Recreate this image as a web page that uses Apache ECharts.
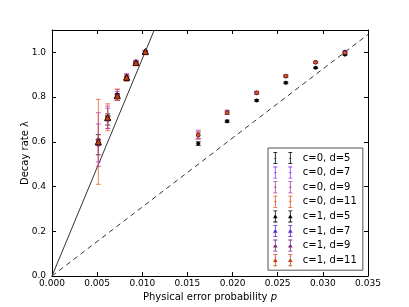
<!DOCTYPE html>
<html>
<head>
<meta charset="utf-8">
<script src="https://cdn.jsdelivr.net/npm/echarts@6/dist/echarts.min.js"></script>
<style>
html,body{margin:0;padding:0;background:#fff;}
#chart{width:409px;height:307px;}
</style>
</head>
<body>
<div id="chart"></div>
<script>
// ---- data ----
const pLow = [0.00513, 0.00617, 0.00723, 0.00827, 0.0093, 0.01034];
const pHigh = [0.0162, 0.0194, 0.02267, 0.0259, 0.0292, 0.03245];

const c0d5Low = [0.587, 0.700, 0.800, 0.884, 0.952, 1.000];
const c0d5LowErr = [0.045, 0.025, 0.015, 0.010, 0.008, 0.006];
const c0d5High = [0.592, 0.692, 0.785, 0.864, 0.931, 0.990];
const c0d5HighErr = [0.008, 0.005, 0.004, 0.004, 0.003, 0.003];

const c0d7Low = [0.595, 0.705, 0.805, 0.888, 0.955, 1.002];
const c0d7LowErr = [0.085, 0.045, 0.020, 0.012, 0.008, 0.006];
const c0d7High = [0.628, 0.730, 0.818, 0.893, 0.955, 1.003];
const c0d7HighErr = [0.015, 0.008, 0.005, 0.004, 0.004, 0.004];

const c0d9Low = [0.610, 0.710, 0.810, 0.890, 0.955, 1.000];
const c0d9LowErr = [0.120, 0.050, 0.025, 0.015, 0.010, 0.007];
const c0d9High = [0.632, 0.732, 0.820, 0.894, 0.956, 1.000];
const c0d9HighErr = [0.020, 0.010, 0.006, 0.005, 0.004, 0.004];

const c0d11Low = [0.600, 0.710, 0.810, 0.885, 0.950, 0.998];
const c0d11LowErr = [0.190, 0.060, 0.025, 0.015, 0.010, 0.008];
const c0d11High = [0.630, 0.730, 0.819, 0.894, 0.956, 0.998];
const c0d11HighErr = [0.015, 0.006, 0.005, 0.004, 0.004, 0.004];

const c1d5Low = [0.598, 0.706, 0.805, 0.886, 0.953, 1.003];
const c1d7Low = [0.596, 0.704, 0.803, 0.885, 0.951, 1.001];
const c1d9Low = [0.597, 0.705, 0.804, 0.886, 0.952, 1.000];
const c1d11Low = [0.598, 0.706, 0.802, 0.885, 0.951, 1.000];
const c1LowErr = [0.012, 0.010, 0.008, 0.006, 0.005, 0.005];

const solidLine = [[0, 0], [0.01133, 1.1]];
const dashedLine = [[0, 0], [0.035, 1.08]];

const xTicks = [0, 0.035, 0.005];
const yTicks = [0, 1.1, 0.2];

// ---- build ----
function pts(xs, ys, errs) {
  return xs.map((x, i) => [x, ys[i], ys[i] - errs[i], ys[i] + errs[i]]);
}
function iconPath(tri) {
  let s = '';
  [2.5, 17.5].forEach(c => {
    s += `M${c-2} 0H${c+2}V0.8H${c+0.4}V11.2H${c+2}V12H${c-2}V11.2H${c-0.4}V0.8H${c-2}Z`;
    if (tri) s += `M${c} 3.8L${c+2.3} 7.8L${c-2.3} 7.8Z`;
    else s += `M${c-1.3} 6L${c} 4.7L${c+1.3} 6L${c} 7.3Z`;
  });
  return 'path://' + s;
}
function errSeries(name, color, data, tri) {
  return {
    type: 'custom', name, data,
    itemStyle: { color },
    encode: { x: 0, y: [1, 2, 3] },
    z: tri ? 4 : 3,
    renderItem(params, api) {
      const x = api.value(0), y = api.value(1), lo = api.value(2), hi = api.value(3);
      const pc = api.coord([x, y]), pl = api.coord([x, lo]), ph = api.coord([x, hi]);
      const cw = 2.5;
      const ls = { stroke: color, lineWidth: 1, opacity: 0.75 };
      const ch = [
        { type: 'line', shape: { x1: pc[0], y1: pl[1], x2: pc[0], y2: ph[1] }, style: ls },
        { type: 'line', shape: { x1: pc[0]-cw, y1: pl[1], x2: pc[0]+cw, y2: pl[1] }, style: ls },
        { type: 'line', shape: { x1: pc[0]-cw, y1: ph[1], x2: pc[0]+cw, y2: ph[1] }, style: ls }
      ];
      if (tri) {
        ch.push({ type: 'polygon', shape: { points: [[pc[0], pc[1]-3.3], [pc[0]+2.9, pc[1]+2.2], [pc[0]-2.9, pc[1]+2.2]] },
          style: { fill: color, stroke: '#000', lineWidth: 0.5 } });
      } else {
        ch.push({ type: 'circle', shape: { cx: pc[0], cy: pc[1], r: 1.8 },
          style: { fill: color, stroke: '#000', lineWidth: 0.4 } });
      }
      return { type: 'group', children: ch };
    }
  };
}

const defs = [
  ['c=0, d=5', '#000000', pts(pLow, c0d5Low, c0d5LowErr).concat(pts(pHigh, c0d5High, c0d5HighErr)), false],
  ['c=0, d=7', '#8a3cff', pts(pLow, c0d7Low, c0d7LowErr).concat(pts(pHigh, c0d7High, c0d7HighErr)), false],
  ['c=0, d=9', '#b03cb0', pts(pLow, c0d9Low, c0d9LowErr).concat(pts(pHigh, c0d9High, c0d9HighErr)), false],
  ['c=0, d=11', '#e8561e', pts(pLow, c0d11Low, c0d11LowErr).concat(pts(pHigh, c0d11High, c0d11HighErr)), false],
  ['c=1, d=5', '#000000', pts(pLow, c1d5Low, c1LowErr), true],
  ['c=1, d=7', '#5a2ad8', pts(pLow, c1d7Low, c1LowErr), true],
  ['c=1, d=9', '#7a2a7a', pts(pLow, c1d9Low, c1LowErr), true],
  ['c=1, d=11', '#c84010', pts(pLow, c1d11Low, c1LowErr), true]
];

const font = 'DejaVu Sans';
const series = defs.map(d => errSeries(d[0], d[1], d[2], d[3]));
series.push({ type: 'line', data: solidLine, symbol: 'none', silent: true, z: 2,
  lineStyle: { color: '#333', width: 1 } });
series.push({ type: 'line', data: dashedLine, symbol: 'none', silent: true, z: 2,
  lineStyle: { color: '#333', width: 1, type: [5, 4] } });

const axLine = { show: true, onZero: false, lineStyle: { color: '#000', width: 1 } };
const tick = { show: true, inside: true, length: 4, lineStyle: { color: '#000' } };

const option = {
  animation: false,
  backgroundColor: '#fff',
  grid: { left: 52, right: 41, top: 30, bottom: 31, containLabel: false },
  legend: {
    orient: 'vertical', left: 268, top: 148,
    data: defs.map((d, i) => ({ name: d[0], icon: iconPath(d[3]) })),
    itemWidth: 20, itemHeight: 12, itemGap: 2.6,
    padding: [4, 6, 4, 5],
    backgroundColor: '#fff', borderColor: '#555', borderWidth: 1, borderRadius: 0,
    textStyle: { fontFamily: font, fontSize: 10, color: '#000', padding: [0, 0, 0, 5] }
  },
  xAxis: [
    { type: 'value', min: xTicks[0], max: xTicks[1], interval: xTicks[2],
      name: 'Physical error probability {i|p}', nameLocation: 'middle', nameGap: 16,
      nameMoveOverlap: false,
      nameTextStyle: { fontFamily: font, fontSize: 10, color: '#000',
        rich: { i: { fontFamily: font, fontSize: 10, fontStyle: 'italic', color: '#000' } } },
      axisLine: axLine, axisTick: tick, splitLine: { show: false },
      axisLabel: { fontFamily: font, fontSize: 9, color: '#000', margin: 3,
        formatter: v => v.toFixed(3) } },
    { type: 'value', position: 'top', min: xTicks[0], max: xTicks[1], interval: xTicks[2],
      axisLine: axLine, axisTick: tick, axisLabel: { show: false }, splitLine: { show: false } }
  ],
  yAxis: [
    { type: 'value', min: yTicks[0], max: yTicks[1], interval: yTicks[2],
      name: 'Decay rate λ', nameLocation: 'middle', nameGap: 22, nameRotate: 90,
      nameMoveOverlap: false,
      nameTextStyle: { fontFamily: font, fontSize: 10, color: '#000' },
      axisLine: axLine, axisTick: tick, splitLine: { show: false },
      axisLabel: { fontFamily: font, fontSize: 9, color: '#000', margin: 6, showMaxLabel: false,
        formatter: v => v.toFixed(1) } },
    { type: 'value', position: 'right', min: yTicks[0], max: yTicks[1], interval: yTicks[2],
      axisLine: axLine, axisTick: tick, axisLabel: { show: false }, splitLine: { show: false } }
  ],
  series
};

const chart = echarts.init(document.getElementById('chart'), null, { renderer: 'canvas' });
chart.setOption(option);
</script>
</body>
</html>
